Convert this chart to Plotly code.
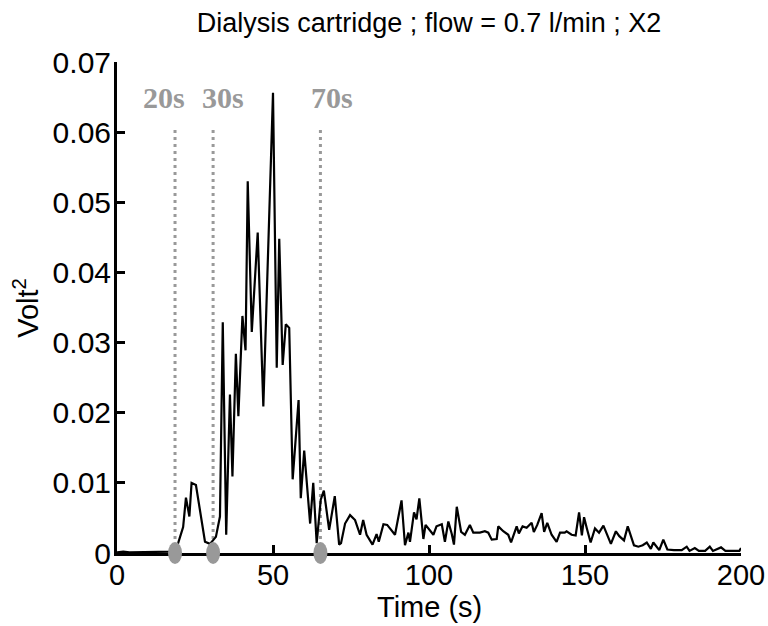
import plotly.graph_objects as go

# Acoustic power trace (Volt^2) versus time
time_s = [0, 2, 4, 6, 8, 10, 12, 14, 16, 18, 18.6, 19.6, 21.2, 22.1, 23.2, 23.9, 25.3, 28.2, 29.8,
          31.7, 33.0, 33.9, 35.0, 36.2, 37.0, 38.1, 38.9, 40.2, 41.2, 41.9, 43.2, 45.1, 46.9,
          50.0, 51.2, 52.0, 53.1, 54.1, 55.2, 56.3, 58.2, 58.9, 60.0, 61.9, 62.9, 64.0, 65.3,
          66.3, 68.0, 69.8, 71.2, 71.8, 73.1, 74.7, 76.3, 77.9, 78.9, 80.0, 81.9, 83.2, 83.9,
          85.4, 86.6, 89.1, 91.2, 92.3, 93.4, 93.9, 95.2, 96.0, 96.9, 98.2, 98.9, 99.9, 101.4,
          102.4, 104.1, 105.1, 106.2, 107.3, 108.0, 108.9, 110.3, 111.5, 113.1, 114.2, 116.3,
          117.9, 119.0, 120.1, 121.7, 122.2, 123.8, 125.4, 126.3, 128.1, 128.8, 130.0, 131.3,
          132.9, 133.6, 134.7, 136.1, 136.9, 137.9, 139.3, 140.9, 142.0, 143.5, 144.1, 145.7,
          147.0, 148.1, 149.0, 149.7, 150.6, 151.8, 153.2, 154.5, 155.9, 158.3, 159.9, 161.0,
          162.5, 163.7, 165.7, 167.1, 168.5, 169.8, 171.1, 171.9, 173.8, 175.1, 176.4, 178.5,
          181.0, 182.6, 183.5, 185.2, 186.5, 188.5, 190.0, 191.0, 193.6, 195.0, 197.5, 199.5, 200.0]

volt2 = [0.0001, 0.0002, 0.0001, 0.0001, 0.0002, 0.0001, 0.0001, 0.0002, 0.0001, 0.0002, 0.0003,
         0.0014, 0.0037, 0.0079, 0.0052, 0.0100, 0.0097, 0.0016, 0.0013,
         0.0023, 0.0052, 0.0329, 0.0026, 0.0226, 0.0109, 0.0284, 0.0195, 0.0338, 0.0289, 0.0530,
         0.0315, 0.0457, 0.0209,
         0.0656, 0.0264, 0.0448, 0.0268, 0.0326, 0.0321, 0.0105, 0.0218, 0.0078, 0.0146, 0.0042,
         0.0100, 0.0014, 0.0076,
         0.0089, 0.0033, 0.0081, 0.0012, 0.0014, 0.0042, 0.0054, 0.0047, 0.0026, 0.0047, 0.0026,
         0.0012, 0.0027, 0.0016,
         0.0041, 0.0040, 0.0026, 0.0075, 0.0011, 0.0029, 0.0016, 0.0058, 0.0048, 0.0078, 0.0020,
         0.0040, 0.0035, 0.0026,
         0.0038, 0.0041, 0.0016, 0.0045, 0.0027, 0.0012, 0.0066, 0.0030, 0.0026, 0.0040, 0.0029,
         0.0029,
         0.0031, 0.0029, 0.0019, 0.0020, 0.0038, 0.0031, 0.0026, 0.0015, 0.0038, 0.0028, 0.0038,
         0.0036,
         0.0043, 0.0030, 0.0040, 0.0057, 0.0030, 0.0043, 0.0026, 0.0016, 0.0029, 0.0029, 0.0031,
         0.0026,
         0.0025, 0.0058, 0.0025, 0.0051, 0.0035, 0.0015, 0.0035, 0.0029, 0.0039, 0.0013, 0.0031,
         0.0024,
         0.0018, 0.0038, 0.0011, 0.0009, 0.0011, 0.0015, 0.0006, 0.0015, 0.0004, 0.0019, 0.0005,
         0.0004,
         0.0004, 0.0009, 0.0003, 0.0007, 0.0003, 0.0003, 0.0009, 0.0003, 0.0008, 0.0003, 0.0003,
         0.0003, 0.0007]

# Event markers: position on the time axis and their labels
event_times = [18.6, 30.8, 65.2]
event_labels = ["20s", "30s", "70s"]
event_label_x = [15.1, 34.1, 68.9]
event_line_top = 0.0603
event_label_y = 0.0649

x_ticks = [0, 50, 100, 150, 200]
y_ticks = [0, 0.01, 0.02, 0.03, 0.04, 0.05, 0.06, 0.07]

GRAY = "#999999"
SANS = "Liberation Sans, Arial, sans-serif"
SERIF = "Liberation Serif, Times New Roman, serif"

fig = go.Figure()

for t in event_times:
    fig.add_trace(go.Scatter(
        x=[t, t], y=[0, event_line_top], mode="lines",
        line=dict(color=GRAY, width=3, dash="3px,4px"),
        hoverinfo="skip", showlegend=False,
    ))

fig.add_trace(go.Scatter(
    x=time_s, y=volt2, mode="lines",
    line=dict(color="black", width=2.2),
    showlegend=False,
))

# Grey oval markers sitting on the time axis (y domain bottom = 0)
shapes = []
for t in event_times:
    shapes.append(dict(
        type="circle", xref="x", yref="y domain",
        xsizemode="pixel", ysizemode="pixel",
        xanchor=t, yanchor=0,
        x0=-7, x1=7, y0=-11, y1=11,
        fillcolor=GRAY, line=dict(width=0), layer="above",
    ))

annotations = []
for lx, lab in zip(event_label_x, event_labels):
    annotations.append(dict(
        x=lx, y=event_label_y, xref="x", yref="y", text="<b>%s</b>" % lab,
        showarrow=False, xanchor="center", yanchor="middle",
        font=dict(family=SERIF, size=30, color=GRAY),
    ))

annotations.append(dict(
    x=-0.147, y=0.5, xref="paper", yref="paper", text="Volt<sup>2</sup>",
    textangle=-90, showarrow=False, xanchor="center", yanchor="middle",
    font=dict(family=SANS, size=29, color="black"),
))
annotations.append(dict(
    x=0.5, y=-0.11, xref="paper", yref="paper", text="Time (s)",
    showarrow=False, xanchor="center", yanchor="middle",
    font=dict(family=SANS, size=29, color="black"),
))

fig.update_layout(
    width=768, height=626,
    margin=dict(l=117, r=27, t=62, b=73),
    paper_bgcolor="white", plot_bgcolor="white",
    title=dict(
        text="Dialysis cartridge ; flow = 0.7 l/min ; X2",
        x=0.5, xref="paper", y=1 - 23 / 626, yref="container",
        xanchor="center", yanchor="middle",
        font=dict(family=SANS, size=27, color="black"),
    ),
    shapes=shapes,
    annotations=annotations,
    showlegend=False,
)

fig.update_xaxes(
    range=[0, 200], tickvals=x_ticks, ticktext=[str(v) for v in x_ticks],
    automargin=False,
    showgrid=False, zeroline=False, showline=True, linecolor="black", linewidth=3,
    ticks="inside", ticklen=8, tickwidth=3, tickcolor="black",
    ticklabelstandoff=-6,
    tickfont=dict(family=SANS, size=29, color="black"),
)
fig.update_yaxes(
    range=[0, 0.07], tickvals=y_ticks, ticktext=["0" if v == 0 else "%.2f" % v for v in y_ticks],
    automargin=False,
    showgrid=False, zeroline=False, showline=True, linecolor="black", linewidth=3,
    ticks="inside", ticklen=8, tickwidth=3, tickcolor="black",
    ticklabelstandoff=-3,
    tickfont=dict(family=SANS, size=30, color="black"),
)

fig.write_html("out.html")
